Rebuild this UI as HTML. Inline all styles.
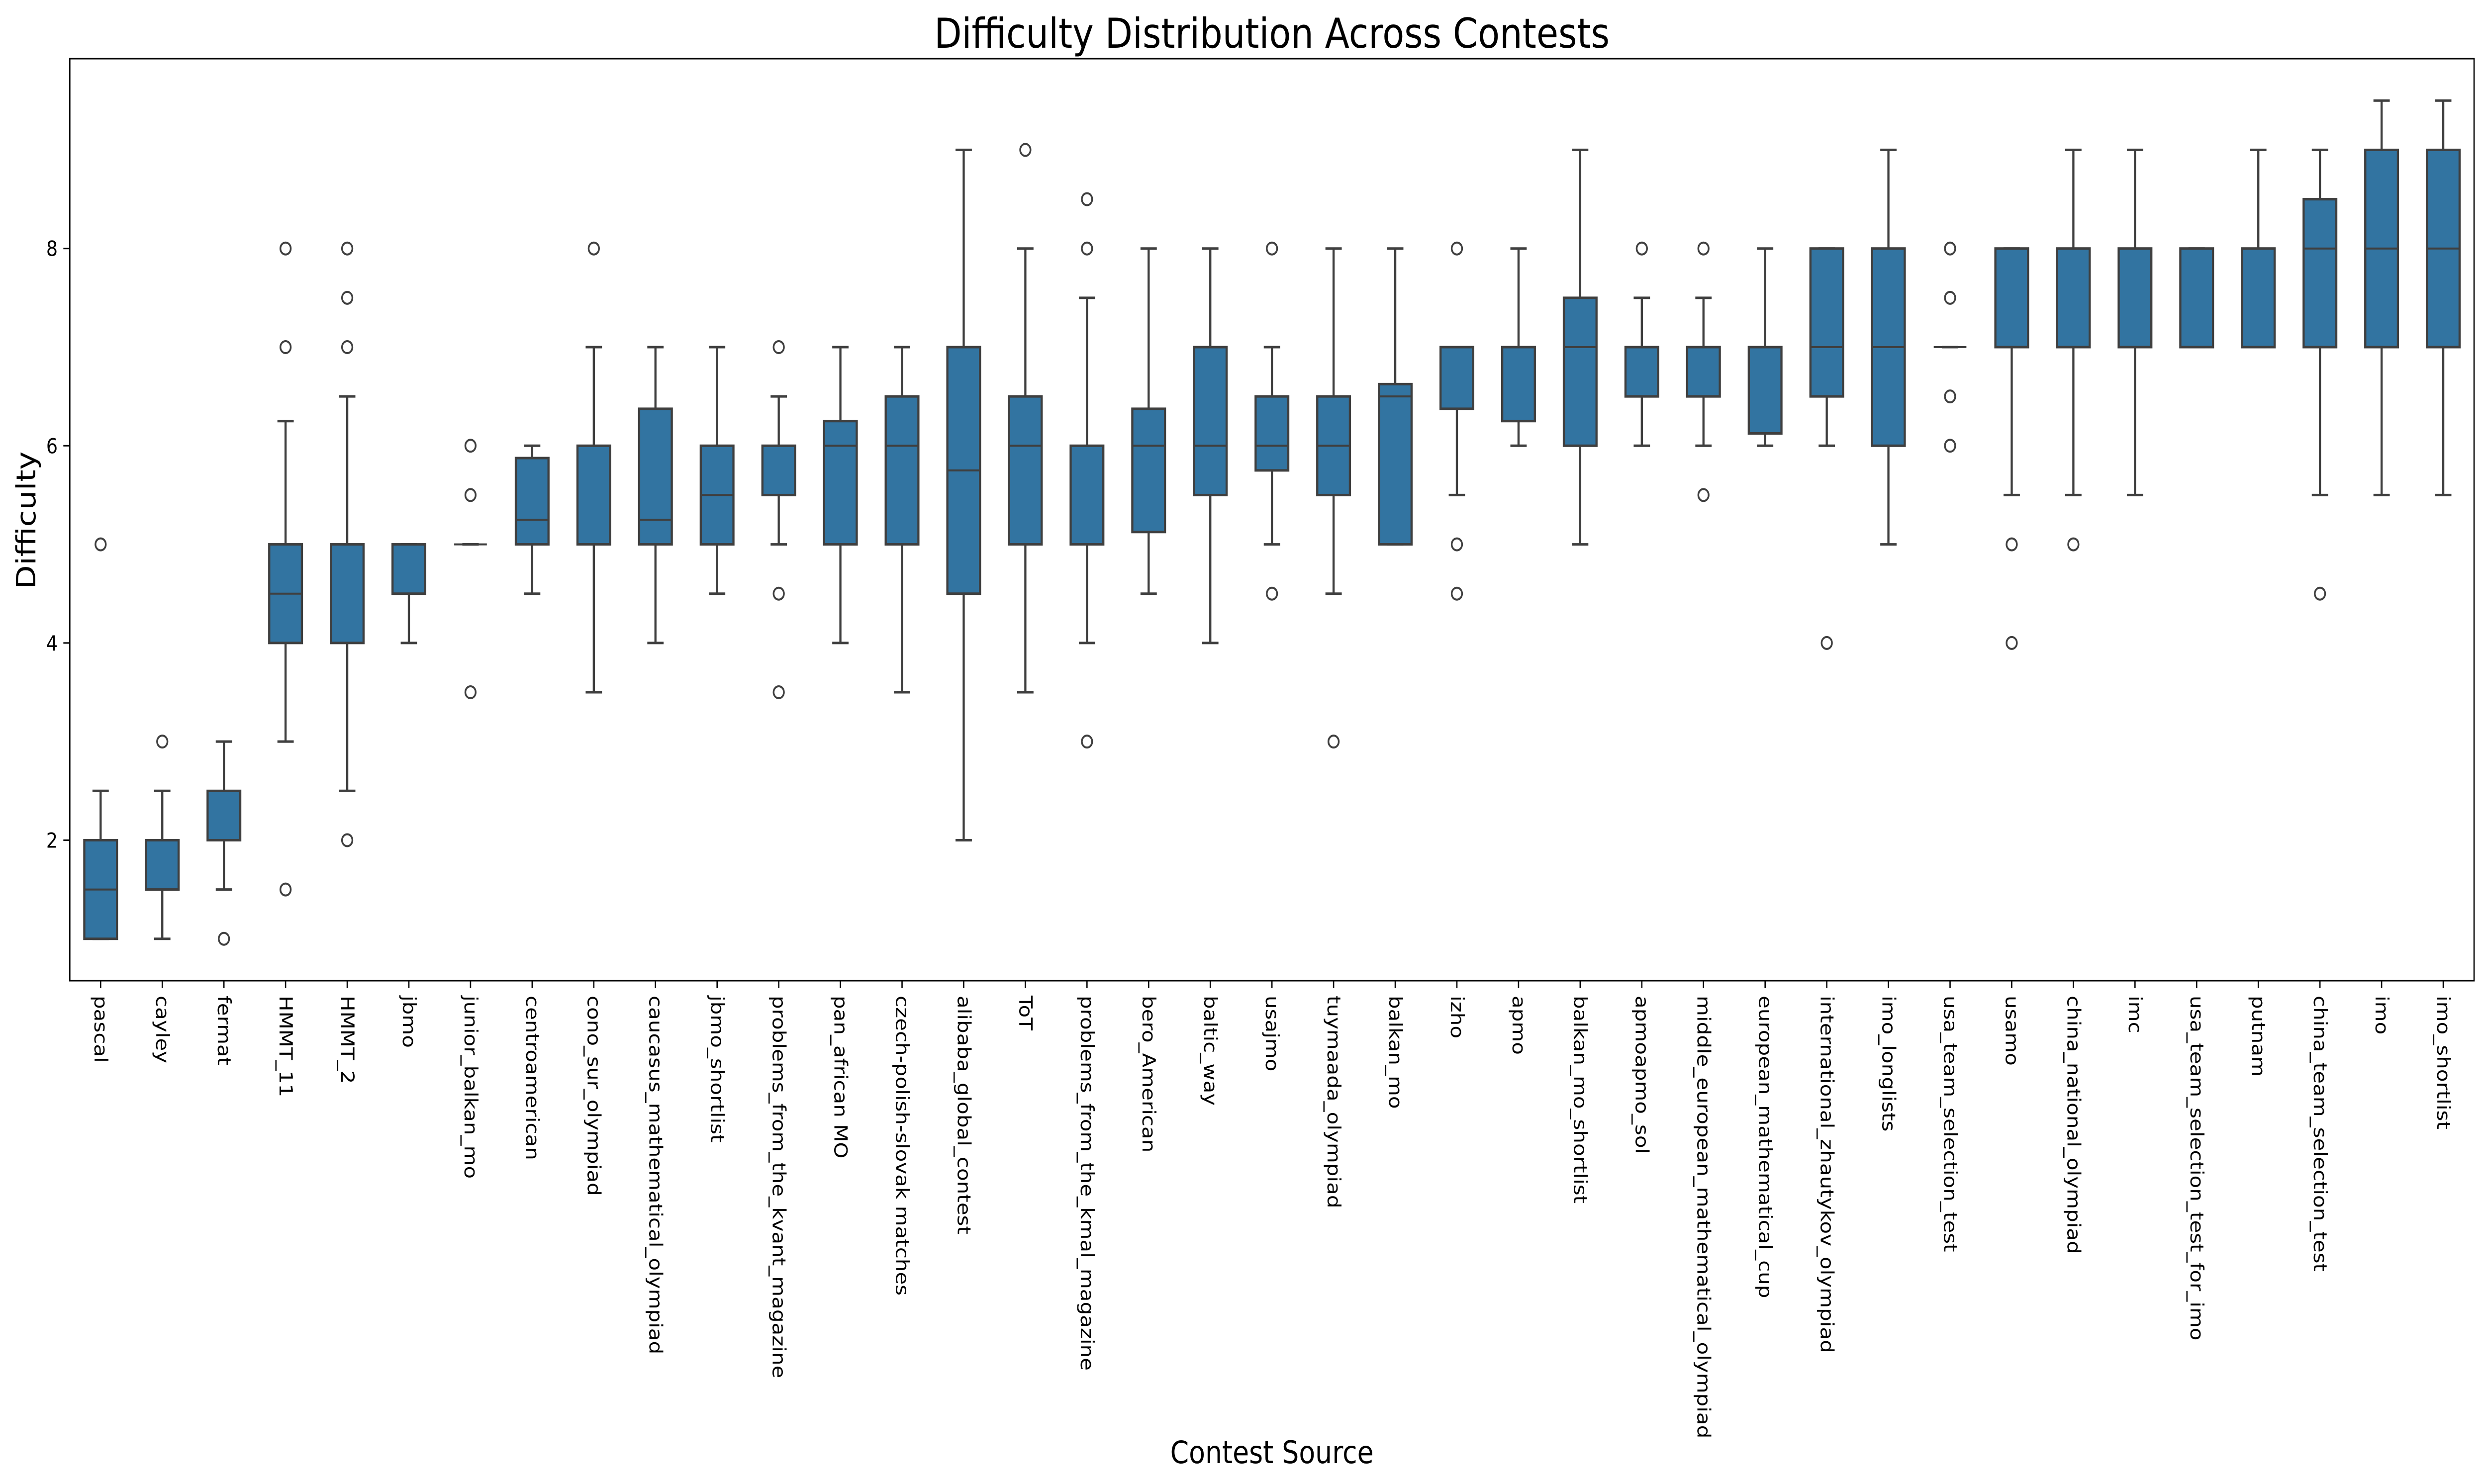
<!DOCTYPE html>
<html><head><meta charset="utf-8">
<style>
html,body{margin:0;padding:0;background:#fff;width:100%;height:100%;overflow:hidden;}
svg{display:block;width:100vw;height:100vh;font-family:"DejaVu Sans","Liberation Sans",sans-serif;}
</style></head>
<body>
<svg id="chart" viewBox="0 0 5772 2984" preserveAspectRatio="none" xmlns="http://www.w3.org/2000/svg">
<rect x="0" y="0" width="5772" height="2984" fill="#fff"/>
<text x="2952" y="96" font-size="83" text-anchor="middle" fill="#000">Difficulty Distribution Across Contests</text>
<text transform="translate(82,1046) rotate(-90)" font-size="62" text-anchor="middle" fill="#000">Difficulty</text>
<text x="2952" y="2942" font-size="62" text-anchor="middle" fill="#000">Contest Source</text>
<g id="plot"></g>
</svg>
<script>
const categories = ["pascal","cayley","fermat","HMMT_11","HMMT_2","jbmo","junior_balkan_mo","centroamerican","cono_sur_olympiad","caucasus_mathematical_olympiad","jbmo_shortlist","problems_from_the_kvant_magazine","pan_african MO","czech-polish-slovak matches","alibaba_global_contest","ToT","problems_from_the_kmal_magazine","bero_American","baltic_way","usajmo","tuymaada_olympiad","balkan_mo","izho","apmo","balkan_mo_shortlist","apmoapmo_sol","middle_european_mathematical_olympiad","european_mathematical_cup","international_zhautykov_olympiad","imo_longlists","usa_team_selection_test","usamo","china_national_olympiad","imc","usa_team_selection_test_for_imo","putnam","china_team_selection_test","imo","imo_shortlist"];
const whiskerLow = [1,1,1.5,3,2.5,4,5,4.5,3.5,4,4.5,5,4,3.5,2,3.5,4,4.5,4,5,4.5,5,5.5,6,5,6,6,6,6,5,7,5.5,5.5,5.5,7,7,5.5,5.5,5.5];
const q1 = [1,1.5,2,4,4,4.5,5,5,5,5,5,5.5,5,5,4.5,5,5,5.125,5.5,5.75,5.5,5,6.375,6.25,6,6.5,6.5,6.125,6.5,6,7,7,7,7,7,7,7,7,7];
const medians = [1.5,1.5,2.5,4.5,5,5,5,5.25,5,5.25,5.5,6,6,6,5.75,6,6,6,6,6,6,6.5,7,7,7,7,7,7,7,7,7,8,8,8,8,8,8,8,8];
const q3 = [2,2,2.5,5,5,5,5,5.875,6,6.375,6,6,6.25,6.5,7,6.5,6,6.375,7,6.5,6.5,6.625,7,7,7.5,7,7,7,8,8,7,8,8,8,8,8,8.5,9,9];
const whiskerHigh = [2.5,2.5,3,6.25,6.5,5,5,6,7,7,7,6.5,7,7,9,8,7.5,8,8,7,8,8,7,8,9,7.5,7.5,8,8,9,7,8,9,9,8,9,9,9.5,9.5];
const fliers = [[5],[3],[1],[8,7,1.5],[8,7.5,7,2],[],[6,5.5,3.5],[],[8],[],[],[7,4.5,3.5],[],[],[],[9],[8.5,8,3],[],[],[8,4.5],[3],[],[8,5,4.5],[],[],[8],[8,5.5],[],[4],[],[8,7.5,6.5,6],[5,4],[5],[],[],[],[4.5],[],[]];
const yTicks = [2,4,6,8];

const L=162,R=5742,T=118,B=1972;
const yMin=0.575,yMax=9.925;
const n=categories.length;
function xs(i){return L+(i+0.5)*(R-L)/n;}
function ys(v){return B-(v-yMin)/(yMax-yMin)*(B-T);}
const NS="http://www.w3.org/2000/svg";
const plot=document.getElementById('plot');
function mk(tag,attrs,parent){const e=document.createElementNS(NS,tag);for(const k in attrs)e.setAttribute(k,attrs[k]);(parent||plot).appendChild(e);return e;}
const step=(R-L)/n, bw=step*0.53, cw=bw/2, stroke="#3f3f3f";
for(let i=0;i<n;i++){
  const g=mk('g',{});
  
  
  const x=xs(i);
  mk('line',{x1:x,x2:x,y1:ys(whiskerLow[i]),y2:ys(q1[i]),stroke:stroke,'stroke-width':5},g);
  mk('line',{x1:x,x2:x,y1:ys(q3[i]),y2:ys(whiskerHigh[i]),stroke:stroke,'stroke-width':5},g);
  mk('line',{x1:x-cw/2,x2:x+cw/2,y1:ys(whiskerLow[i]),y2:ys(whiskerLow[i]),stroke:stroke,'stroke-width':5},g);
  mk('line',{x1:x-cw/2,x2:x+cw/2,y1:ys(whiskerHigh[i]),y2:ys(whiskerHigh[i]),stroke:stroke,'stroke-width':5},g);
  const h=Math.max(ys(q1[i])-ys(q3[i]),0);
  mk('rect',{x:x-bw/2,y:ys(q3[i]),width:bw,height:h,fill:'#3274a1',stroke:stroke,'stroke-width':5},g);
  mk('line',{x1:x-bw/2,x2:x+bw/2,y1:ys(medians[i]),y2:ys(medians[i]),stroke:stroke,'stroke-width':4},g);
  fliers[i].forEach(v=>{
    const c=mk('circle',{cx:x,cy:ys(v),r:12,fill:'none',stroke:stroke,'stroke-width':4},g);
    
    
  });
  const t=mk('line',{x1:x,x2:x,y1:B,y2:B+15,stroke:'#000','stroke-width':3});
  
  
  const lb=mk('text',{transform:'translate('+(x-14)+','+(B+30)+') rotate(90)','font-size':42,fill:'#000'});
  lb.textContent=categories[i];
  
  
}
yTicks.forEach(v=>{
  const t=mk('line',{x1:L-15,x2:L,y1:ys(v),y2:ys(v),stroke:'#000','stroke-width':3});
  
  
  const lb=mk('text',{x:L-28,y:ys(v)+15,'font-size':42,'text-anchor':'end',fill:'#000'});
  lb.textContent=String(v);
  
  
});
const frame=mk('rect',{x:L,y:T,width:R-L,height:B-T,fill:'none',stroke:'#000','stroke-width':3});


</script>
</body></html>
